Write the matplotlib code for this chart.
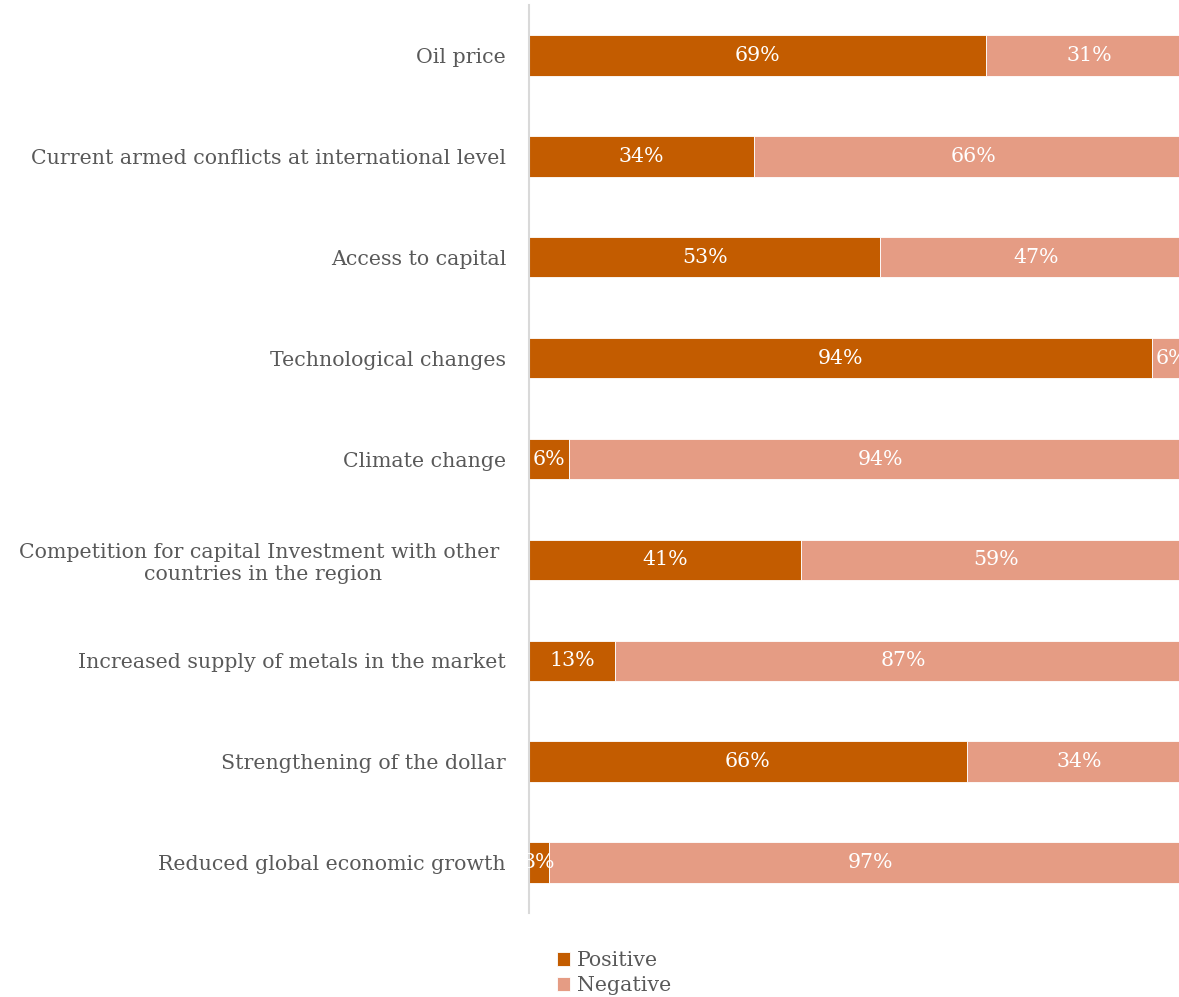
import matplotlib
matplotlib.use("Agg")
import matplotlib.pyplot as plt
import numpy as np

categories = [
    "Oil price",
    "Current armed conflicts at international level",
    "Access to capital",
    "Technological changes",
    "Climate change",
    "Competition for capital Investment with other \ncountries in the region",
    "Increased supply of metals in the market",
    "Strengthening of the dollar",
    "Reduced global economic growth",
]
positive = [69, 34, 53, 94, 6, 41, 13, 66, 3]
negative = [31, 66, 47, 6, 94, 59, 87, 34, 97]

POS_COLOR = "#C35C00"
NEG_COLOR = "#E59C84"
TEXT_COLOR = "#595959"
FONT = "DejaVu Serif"
FS = 14.8

W, H = 1179, 997
fig = plt.figure(figsize=(W / 100, H / 100), dpi=100)
ax = fig.add_axes([529 / W, 1 - 913 / H, (1192 - 529) / W, 908 / H])

y = np.arange(len(categories))
b1 = ax.barh(y, positive, height=0.4, color=POS_COLOR, edgecolor="white",
             linewidth=0.6, label="Positive")
b2 = ax.barh(y, negative, left=positive, height=0.4, color=NEG_COLOR,
             edgecolor="white", linewidth=0.6, label="Negative")

for i, (p, n) in enumerate(zip(positive, negative)):
    ax.text(p / 2, i, f"{p}%", ha="center", va="center", color="white",
            fontsize=FS, family=FONT)
    ax.text(p + n / 2, i, f"{n}%", ha="center", va="center", color="white",
            fontsize=FS, family=FONT)

ax.set_xlim(0, 100)
ax.set_ylim(len(categories) - 0.5, -0.5)
ax.set_yticks(y)
ax.set_yticklabels(categories, fontsize=FS, family=FONT, color=TEXT_COLOR,
                   multialignment="center")
ax.tick_params(axis="y", length=0, pad=16.5)
ax.set_xticks([])
for s in ["top", "right", "bottom"]:
    ax.spines[s].set_visible(False)
ax.spines["left"].set_color("#D9D9D9")
ax.spines["left"].set_linewidth(1.5)

fig.legend(handles=[b1, b2], loc="upper left",
           bbox_to_anchor=(557 / W, 1 - 951 / H), frameon=False,
           prop={"family": FONT, "size": FS}, labelcolor=TEXT_COLOR,
           handlelength=0.65, handleheight=0.65, handletextpad=0.3,
           labelspacing=0.3, borderaxespad=0, borderpad=0)

fig.savefig("out.png", dpi=100)
